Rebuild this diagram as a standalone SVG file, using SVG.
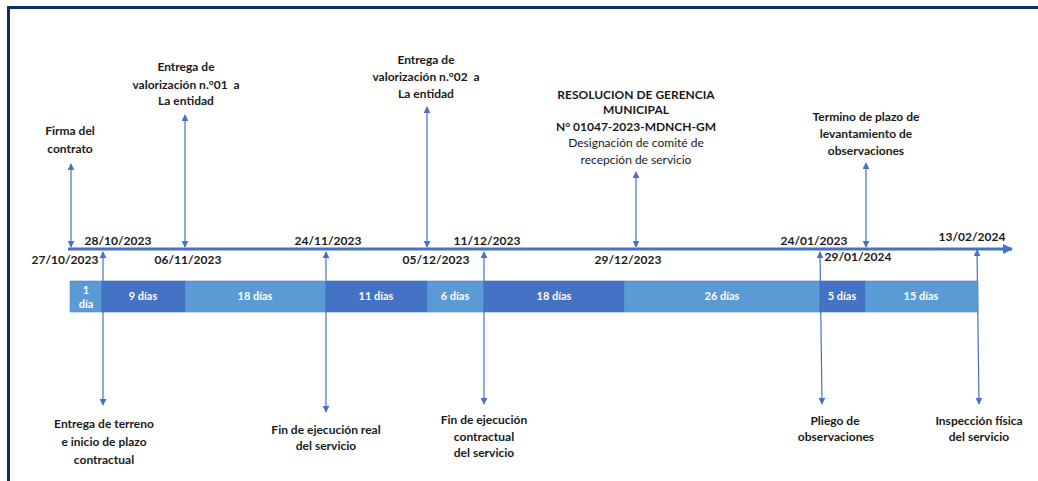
<svg xmlns="http://www.w3.org/2000/svg" width="1038" height="481" viewBox="0 0 1038 481">
<defs>
<style>
.t{font-family:Lato,"Open Sans","Liberation Sans",sans-serif;font-size:12px;font-weight:bold;fill:#1a1a1a;text-anchor:middle;white-space:pre}
.n{font-weight:normal}
.d{font-family:Lato,"Open Sans","Liberation Sans",sans-serif;font-size:12px;font-weight:bold;fill:#1a1a1a;text-anchor:middle}
.b{font-family:Lato,"Open Sans","Liberation Sans",sans-serif;font-size:11px;font-weight:bold;fill:#ffffff;text-anchor:middle}
.l{fill:#5B9BD5;stroke:#4f86bf;stroke-width:0.6}
.k{fill:#4472C4;stroke:#3d66b0;stroke-width:0.6}
.c{stroke:#4472C4;stroke-width:1.2;fill:none;marker-start:url(#ah);marker-end:url(#ah)}
</style>
<marker id="ah" viewBox="0 0 10 10" refX="9" refY="5" markerWidth="7" markerHeight="7" markerUnits="userSpaceOnUse" orient="auto-start-reverse">
<path d="M0,0 L10,5 L0,10 z" fill="#4472C4"/>
</marker>
<marker id="big" viewBox="0 0 10 10" refX="9" refY="5" markerWidth="10" markerHeight="10" markerUnits="userSpaceOnUse" orient="auto">
<path d="M0,0 L10,5 L0,10 z" fill="#4472C4"/>
</marker>
</defs>
<rect width="1038" height="481" fill="#ffffff"/>
<g id="frame">
<line x1="7" y1="7.5" x2="1038" y2="7.5" stroke="#12296a" stroke-width="3"/>
<line x1="8.5" y1="6" x2="8.5" y2="481" stroke="#12296a" stroke-width="3"/>
</g>
<g id="connectors">
<line x1="68" y1="249" x2="1012" y2="249" stroke="#4472C4" stroke-width="3" marker-end="url(#big)"/>
<line class="c" x1="71" y1="164" x2="71" y2="247"/>
<line class="c" x1="185" y1="115" x2="185" y2="247"/>
<line class="c" x1="427" y1="107" x2="427" y2="247"/>
<line class="c" x1="636" y1="172" x2="636" y2="247"/>
<line class="c" x1="866" y1="163" x2="866" y2="247"/>
<line class="c" x1="103" y1="252" x2="103" y2="405"/>
<line class="c" x1="326" y1="252" x2="326" y2="412"/>
<line class="c" x1="484" y1="252" x2="484" y2="404"/>
<line class="c" x1="820" y1="252" x2="822" y2="404"/>
<line class="c" x1="977" y1="250" x2="979" y2="404"/>
</g>
<g id="bars">
<rect class="l" x="70" y="281" width="32" height="31"/>
<rect class="k" x="102" y="281" width="83" height="31"/>
<rect class="l" x="185" y="281" width="141" height="31"/>
<rect class="k" x="326" y="281" width="101" height="31"/>
<rect class="l" x="427" y="281" width="57" height="31"/>
<rect class="k" x="484" y="281" width="140" height="31"/>
<rect class="l" x="624" y="281" width="196" height="31"/>
<rect class="k" x="820" y="281" width="45" height="31"/>
<rect class="l" x="865" y="281" width="113" height="31"/>
<text class="b" x="86" y="294">1</text>
<text class="b" x="86" y="308">día</text>
<text class="b" x="143" y="300">9 días</text>
<text class="b" x="255" y="300">18 días</text>
<text class="b" x="376" y="300">11 días</text>
<text class="b" x="455" y="300">6 días</text>
<text class="b" x="554" y="300">18 días</text>
<text class="b" x="722" y="300">26 días</text>
<text class="b" x="842" y="300">5 días</text>
<text class="b" x="921" y="300">15 días</text>
</g>
<g id="dates">
<text class="d" x="65" y="264">27/10/2023</text>
<text class="d" x="118" y="245">28/10/2023</text>
<text class="d" x="188" y="264">06/11/2023</text>
<text class="d" x="328" y="245">24/11/2023</text>
<text class="d" x="436" y="264">05/12/2023</text>
<text class="d" x="487" y="245">11/12/2023</text>
<text class="d" x="628" y="264">29/12/2023</text>
<text class="d" x="814" y="245">24/01/2023</text>
<text class="d" x="858" y="261">29/01/2024</text>
<text class="d" x="972" y="241">13/02/2024</text>
</g>
<g id="n-firma">
<text class="t" x="70" y="135">Firma del</text>
<text class="t" x="70" y="153">contrato</text>
</g>
<g id="n-val01">
<text class="t" x="186" y="71">Entrega de</text>
<text class="t" x="186" y="89" xml:space="preserve">valorización n.°01  a</text>
<text class="t" x="186" y="105">La entidad</text>
</g>
<g id="n-val02">
<text class="t" x="426" y="64">Entrega de</text>
<text class="t" x="426" y="81" xml:space="preserve">valorización n.°02  a</text>
<text class="t" x="426" y="98">La entidad</text>
</g>
<g id="n-resolucion">
<text class="t" x="636" y="99">RESOLUCION DE GERENCIA</text>
<text class="t" x="636" y="114">MUNICIPAL</text>
<text class="t" x="636" y="131">N° 01047-2023-MDNCH-GM</text>
<text class="t n" x="636" y="147">Designación de comité de</text>
<text class="t n" x="636" y="164">recepción de servicio</text>
</g>
<g id="n-termino">
<text class="t" x="866" y="121">Termino de plazo de</text>
<text class="t" x="866" y="138">levantamiento de</text>
<text class="t" x="866" y="155">observaciones</text>
</g>
<g id="n-terreno">
<text class="t" x="104" y="428">Entrega de terreno</text>
<text class="t" x="104" y="446">e inicio de plazo</text>
<text class="t" x="104" y="464">contractual</text>
</g>
<g id="n-finreal">
<text class="t" x="326" y="434">Fin de ejecución real</text>
<text class="t" x="326" y="450">del servicio</text>
</g>
<g id="n-fincontr">
<text class="t" x="484" y="424">Fin de ejecución</text>
<text class="t" x="484" y="441">contractual</text>
<text class="t" x="484" y="457">del servicio</text>
</g>
<g id="n-pliego">
<text class="t" x="835" y="425">Pliego de</text>
<text class="t" x="836" y="441">observaciones</text>
</g>
<g id="n-inspeccion">
<text class="t" x="979" y="425">Inspección física</text>
<text class="t" x="979" y="441">del servicio</text>
</g>
</svg>
